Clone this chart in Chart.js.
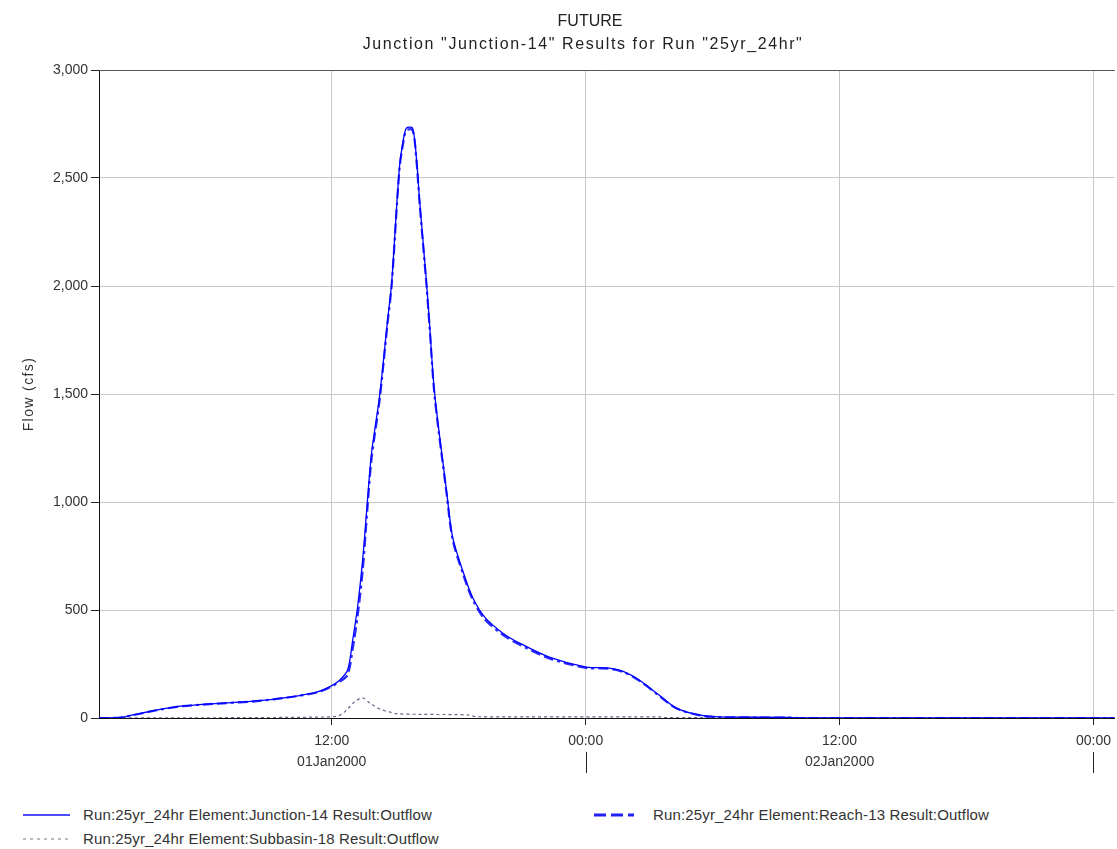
<!DOCTYPE html>
<html>
<head>
<meta charset="utf-8">
<script src="https://cdn.jsdelivr.net/npm/chart.js@4.4.1/dist/chart.umd.min.js"></script>
<style>
  html, body { margin: 0; padding: 0; background: #ffffff; }
  #wrap { position: relative; width: 1117px; height: 849px; font-family: "Liberation Sans", Arial, sans-serif; }
  #c { position: absolute; left: 0; top: 0; }
  .leg { position: absolute; font-size: 15px; color: #333; white-space: nowrap; line-height: 18px; letter-spacing: 0.15px; }
  .leg svg { position: absolute; left: 0; top: 4px; }
  .leg span { position: absolute; top: 0; }
</style>
</head>
<body>
<div id="wrap">
  <canvas id="c" width="1117" height="790"></canvas>
  <div class="leg" style="left:22px; top:806px;">
    <svg width="50" height="10"><line x1="1" y1="5" x2="48" y2="5" stroke="#1010ff" stroke-width="1.3"/></svg>
    <span style="left:61px">Run:25yr_24hr Element:Junction-14 Result:Outflow</span>
  </div>
  <div class="leg" style="left:594px; top:806px;">
    <svg width="52" height="10"><line x1="0" y1="5" x2="48" y2="5" stroke="#2020ff" stroke-width="3" stroke-dasharray="12,5,12,5,6,8"/></svg>
    <span style="left:59px">Run:25yr_24hr Element:Reach-13 Result:Outflow</span>
  </div>
  <div class="leg" style="left:22px; top:830px;">
    <svg width="50" height="10"><line x1="1" y1="5" x2="48" y2="5" stroke="#777788" stroke-width="1.2" stroke-dasharray="3,4"/></svg>
    <span style="left:61px">Run:25yr_24hr Element:Subbasin-18 Result:Outflow</span>
  </div>
</div>
<script>
// Hours since 01Jan2000 00:00
const junctionHours = [1.0, 1.5, 2.0, 2.6, 3.74, 4.96, 6.85, 8.46, 10.0, 11.29, 11.9, 12.37, 12.75, 12.99, 13.22, 13.46, 13.69, 13.88, 14.26, 14.64, 14.83, 15.2, 15.39, 15.53, 15.82, 16.01, 16.15, 16.48, 16.62, 16.86, 17.42, 17.71, 18.18, 18.65, 19.22, 20.07, 20.87, 22.28, 24.03, 25.12, 25.8, 26.53, 27.47, 28.28, 29.36, 30.3, 33.6, 34.08, 49.0];
const junctionFlow  = [0, 0, 2, 14, 37, 56, 69, 79, 97, 120, 144, 175, 222, 361, 514, 731, 1009, 1227, 1490, 1843, 2014, 2551, 2680, 2731, 2731, 2583, 2398, 2014, 1829, 1505, 1056, 838, 685, 560, 468, 394, 347, 282, 236, 231, 215, 176, 106, 46, 14, 5, 3, 0, 0];

const reachHours = [1.0, 1.5, 2.0, 2.6, 3.74, 4.96, 6.85, 8.46, 10.0, 11.29, 11.9, 12.37, 12.75, 12.99, 13.22, 13.46, 13.69, 13.88, 14.26, 14.64, 14.83, 15.2, 15.39, 15.53, 15.82, 16.01, 16.15, 16.48, 16.62, 16.86, 17.42, 17.71, 18.18, 18.65, 19.22, 20.07, 20.87, 22.28, 24.03, 25.12, 25.8, 26.53, 27.47, 28.28, 29.36, 30.3, 33.6, 34.08, 49.0];
const reachFlow  = [0, 0, 2, 13, 36, 55, 68, 78, 96, 118, 141, 168, 200, 320, 470, 680, 975, 1200, 1470, 1830, 2000, 2540, 2670, 2720, 2722, 2572, 2386, 2001, 1816, 1492, 1045, 828, 674, 550, 458, 386, 340, 276, 232, 228, 212, 173, 103, 45, 13, 4, 2, 0, 0];

const subbasinHours = [1.0, 6.0, 11.9, 12.37, 12.7, 13.08, 13.46, 13.79, 14.26, 14.73, 15.06, 16.15, 18.5, 18.8, 27.5, 27.7, 33.6, 34.1, 49.0];
const subbasinFlow  = [0, 1, 5, 12, 37, 75, 93, 70, 42, 28, 20, 17, 14, 6, 5, 2, 1, 0, 0];

const xTickValues = [12, 24, 36, 48];
const xTimeLabels = ['12:00', '00:00', '12:00', '00:00'];
const xDateLabels = ['01Jan2000', '', '02Jan2000', ''];
const daySeparators = [24, 48];

const titleText = 'FUTURE';
const subtitleText = 'Junction "Junction-14" Results for Run "25yr_24hr"';

const pts = (hs, vs) => hs.map((h, i) => ({ x: h, y: vs[i] }));

const FONT = '"Liberation Sans", Arial, sans-serif';

// letter spacing / small offsets to match the reference text rendering
const spacingPlugin = {
  id: 'spacing',
  beforeDraw(chart) {
    if (chart.$spacingPatched) return;
    chart.$spacingPatched = true;
    chart.boxes.forEach(box => {
      if (box.options && box.options.text === subtitleText) {
        const orig = box.draw;
        box.draw = function (...args) {
          const ctx = this.ctx;
          ctx.save();
          ctx.letterSpacing = '1.6px';
          orig.apply(this, args);
          ctx.restore();
        };
      } else if (box.options && box.options.text === titleText) {
        const orig = box.draw;
        box.draw = function (...args) {
          const ctx = this.ctx;
          ctx.save();
          ctx.translate(7, 0);
          orig.apply(this, args);
          ctx.restore();
        };
      }
    });
    const ys = chart.scales.y;
    const origT = ys.drawTitle;
    ys.drawTitle = function (...args) {
      const ctx = this.ctx;
      ctx.save();
      ctx.letterSpacing = '1.4px';
      origT.apply(this, args);
      ctx.restore();
    };
  }
};

const framePlugin = {
  id: 'frame',
  afterDraw(chart) {
    const { ctx, chartArea: a, scales: { x } } = chart;
    ctx.save();
    ctx.strokeStyle = '#555555';
    ctx.lineWidth = 1;
    ctx.beginPath();
    ctx.moveTo(a.left, a.top + 0.5);
    ctx.lineTo(a.right, a.top + 0.5);
    ctx.stroke();
    ctx.strokeStyle = '#222222';
    daySeparators.forEach(v => {
      const px = Math.round(x.getPixelForValue(v)) + 0.5;
      ctx.beginPath();
      ctx.moveTo(px, a.bottom + 34);
      ctx.lineTo(px, a.bottom + 55);
      ctx.stroke();
    });
    ctx.restore();
  }
};

new Chart(document.getElementById('c'), {
  type: 'line',
  data: {
    datasets: [
      {
        label: 'Run:25yr_24hr Element:Subbasin-18 Result:Outflow',
        data: pts(subbasinHours, subbasinFlow),
        borderColor: '#66668a',
        borderWidth: 1.2,
        borderDash: [3, 3],
        pointRadius: 0,
        tension: 0.3,
        order: 3
      },
      {
        label: 'Run:25yr_24hr Element:Reach-13 Result:Outflow',
        data: pts(reachHours, reachFlow),
        borderColor: '#2a2aff',
        borderWidth: 2.2,
        borderDash: [10, 4, 10, 4, 3, 4],
        pointRadius: 0,
        tension: 0.3,
        order: 2
      },
      {
        label: 'Run:25yr_24hr Element:Junction-14 Result:Outflow',
        data: pts(junctionHours, junctionFlow),
        borderColor: '#0000ff',
        borderWidth: 1.3,
        pointRadius: 0,
        tension: 0.3,
        order: 1
      }
    ]
  },
  options: {
    responsive: false,
    animation: false,
    parsing: false,
    layout: { padding: { left: 50, right: 1, top: 0, bottom: 0 } },
    plugins: {
      legend: { display: false },
      tooltip: { enabled: false },
      title: {
        display: true,
        text: titleText,
        color: '#222222',
        font: { family: FONT, size: 16, weight: 'normal', lineHeight: 1.2 },
        padding: { top: 12.4, bottom: 3.8 }
      },
      subtitle: {
        display: true,
        text: subtitleText,
        color: '#222222',
        font: { family: FONT, size: 16, weight: 'normal', lineHeight: 1.2 },
        padding: { top: 0, bottom: 15.4 }
      }
    },
    scales: {
      x: {
        type: 'linear',
        min: 1,
        max: 49,
        afterBuildTicks: (s) => { s.ticks = xTickValues.map(v => ({ value: v })); },
        afterFit: (s) => { s.height = 72; },
        ticks: {
          autoSkip: false,
          maxRotation: 0,
          padding: 6,
          color: '#333333',
          font: { family: FONT, size: 14, lineHeight: 1.5 },
          callback: (v) => {
            const i = xTickValues.indexOf(v);
            return [xTimeLabels[i], xDateLabels[i]];
          }
        },
        grid: {
          color: '#c8c8c8',
          lineWidth: 1,
          tickColor: '#222222',
          tickLength: 7,
          drawTicks: true
        },
        border: { color: '#111111', width: 1 }
      },
      y: {
        min: 0,
        max: 3000,
        afterFit: (s) => { s.width = 49; },
        ticks: {
          stepSize: 500,
          padding: 3,
          color: '#333333',
          font: { family: FONT, size: 14 },
          callback: (v) => v.toLocaleString('en-US')
        },
        grid: {
          color: '#c8c8c8',
          lineWidth: 1,
          tickColor: '#222222',
          tickLength: 8
        },
        border: { color: '#111111', width: 1 },
        title: {
          display: true,
          text: 'Flow (cfs)',
          color: '#333333',
          font: { family: FONT, size: 14 },
          padding: { top: -29.4, bottom: 0 }
        }
      }
    }
  },
  plugins: [spacingPlugin, framePlugin]
});
</script>
</body>
</html>
